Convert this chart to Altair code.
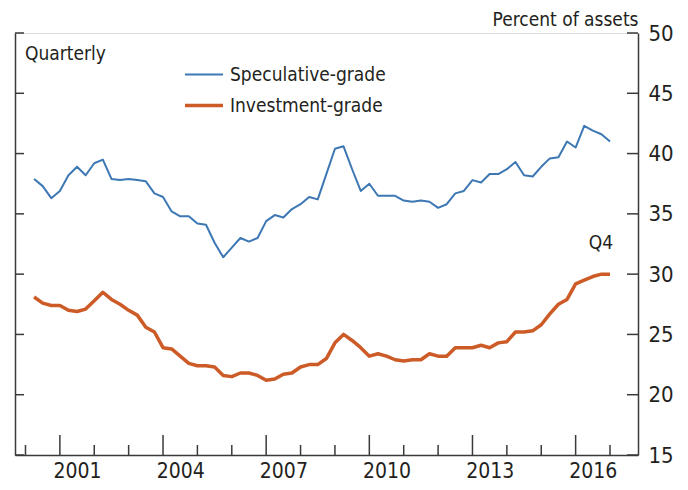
import altair as alt
import pandas as pd

FONT = "'Liberation Sans Narrow', 'Arial Narrow', 'DejaVu Sans Condensed', Roboto, sans-serif"
TEXT = "#231f20"
AXIS = "#3a3a3a"
BLUE = "#3d78b4"
ORANGE = "#cd5b27"

# quarterly observations 2000 Q1 .. 2016 Q4 (plotted at quarter end)
dates = [2000.25 + 0.25 * k for k in range(68)]

speculative = [
    37.9, 37.3, 36.3, 36.9, 38.2, 38.9, 38.2, 39.2, 39.5, 37.9,
    37.8, 37.9, 37.8, 37.7, 36.7, 36.4, 35.2, 34.8, 34.8, 34.2,
    34.1, 32.6, 31.4, 32.2, 33.0, 32.7, 33.0, 34.4, 34.9, 34.7,
    35.4, 35.8, 36.4, 36.2, 38.3, 40.4, 40.6, 38.7, 36.9, 37.5,
    36.5, 36.5, 36.5, 36.1, 36.0, 36.1, 36.0, 35.5, 35.8, 36.7,
    36.9, 37.8, 37.6, 38.3, 38.3, 38.7, 39.3, 38.2, 38.1, 38.9,
    39.6, 39.7, 41.0, 40.5, 42.3, 41.9, 41.6, 41.0,
]
investment = [
    28.1, 27.6, 27.4, 27.4, 27.0, 26.9, 27.1, 27.8, 28.5, 27.9,
    27.5, 27.0, 26.6, 25.6, 25.2, 23.9, 23.8, 23.2, 22.6, 22.4,
    22.4, 22.3, 21.6, 21.5, 21.8, 21.8, 21.6, 21.2, 21.3, 21.7,
    21.8, 22.3, 22.5, 22.5, 23.0, 24.3, 25.0, 24.5, 23.9, 23.2,
    23.4, 23.2, 22.9, 22.8, 22.9, 22.9, 23.4, 23.2, 23.2, 23.9,
    23.9, 23.9, 24.1, 23.9, 24.3, 24.4, 25.2, 25.2, 25.3, 25.8,
    26.7, 27.5, 27.9, 29.2, 29.5, 29.8, 30.0, 30.0,
]
series_names = ["Speculative-grade", "Investment-grade"]

x_major_ticks = [2001, 2004, 2007, 2010, 2013, 2016]
x_minor_ticks = [2000, 2002, 2003, 2005, 2006, 2008, 2009, 2011, 2012, 2014, 2015, 2017]
y_ticks = [15, 20, 25, 30, 35, 40, 45, 50]

W, H = 623, 422
XDOM = [1999.695, 2017.814]
YDOM = [15, 50]
YEAR_PX = W / (XDOM[1] - XDOM[0])

df = pd.DataFrame({
    "date": dates * 2,
    "value": speculative + investment,
    "series": [series_names[0]] * len(dates) + [series_names[1]] * len(dates),
})
maj = pd.DataFrame({"year": x_major_ticks})
mino = pd.DataFrame({"year": x_minor_ticks})
yt = pd.DataFrame({"v": y_ticks})
q4 = pd.DataFrame({"date": [dates[-1]], "value": [investment[-1]], "label": ["Q4"]})
note = pd.DataFrame({"t": ["Quarterly"]})

xscale = alt.Scale(domain=XDOM, nice=False, zero=False)
yscale = alt.Scale(domain=YDOM, nice=False, zero=False)

# identical x axis on every layer that uses the x field, so the shared axis merges cleanly
XAXIS = alt.Axis(
    values=x_major_ticks, format="d", labelOffset=YEAR_PX / 2, ticks=False,
    grid=False, domain=True, domainColor=AXIS, domainWidth=1.5,
    labelFont=FONT, labelFontSize=21, labelColor=TEXT, labelPadding=5,
    labelFlush=False, labelOverlap=False, title=None)

lines = alt.Chart(df).mark_line(strokeJoin="round").encode(
    x=alt.X("date:Q", scale=xscale, axis=XAXIS),
    y=alt.Y("value:Q", scale=yscale, axis=alt.Axis(
        orient="right", values=y_ticks, ticks=False, grid=False, domain=True,
        domainColor=AXIS, domainWidth=1.5, labelFont=FONT, labelFontSize=22,
        labelColor=TEXT, labelPadding=10, labelFlush=False,
        title="Percent of assets", titleAngle=0, titleX=0, titleY=-8,
        titleAlign="right", titleBaseline="alphabetic", titleFont=FONT,
        titleFontSize=19, titleFontWeight="normal", titleColor=TEXT)),
    color=alt.Color("series:N", scale=alt.Scale(domain=series_names, range=[BLUE, ORANGE]),
                    legend=alt.Legend(orient="none", legendX=168, legendY=27, title=None,
                                      symbolType="stroke", symbolSize=1444, labelFont=FONT,
                                      labelFontSize=19, labelColor=TEXT, clipHeight=29,
                                      rowPadding=2, labelOffset=5, padding=0, labelLimit=0)),
    strokeWidth=alt.StrokeWidth("series:N", scale=alt.Scale(domain=series_names, range=[2.0, 3.5])),
)

rule_style = dict(color=AXIS, strokeWidth=1.5)

major = alt.Chart(maj).mark_rule(**rule_style).encode(
    x=alt.X("year:Q", scale=xscale, axis=XAXIS),
    y=alt.value(H), y2=alt.value(H - 20))
minor = alt.Chart(mino).mark_rule(**rule_style).encode(
    x=alt.X("year:Q", scale=xscale, axis=XAXIS),
    y=alt.value(H), y2=alt.value(H - 10))
left_ticks = alt.Chart(yt).mark_rule(**rule_style).encode(
    y=alt.Y("v:Q", scale=yscale, axis=alt.Axis(orient="left", labels=False, ticks=False,
                                               grid=False, domain=True, domainColor=AXIS,
                                               domainWidth=1.5, title=None)),
    x=alt.value(0), x2=alt.value(9))
right_ticks = alt.Chart(yt).mark_rule(**rule_style).encode(
    y=alt.Y("v:Q", scale=yscale, axis=None),
    x=alt.value(W - 11), x2=alt.value(W))

q4_text = alt.Chart(q4).mark_text(font=FONT, fontSize=19, color=TEXT, dx=-9, dy=-25,
                                  baseline="alphabetic", align="center").encode(
    x=alt.X("date:Q", scale=xscale, axis=XAXIS),
    y=alt.Y("value:Q", scale=yscale, axis=None),
    text="label:N")

quarterly = alt.Chart(note).mark_text(font=FONT, fontSize=19, color=TEXT, align="left",
                                      baseline="alphabetic").encode(
    x=alt.value(10), y=alt.value(27), text="t:N")

chart = alt.layer(lines, major, minor, left_ticks, right_ticks, q4_text, quarterly).resolve_axis(
    y="independent"
).properties(
    width=W, height=H,
    autosize=alt.AutoSizeParams(type="none"),
    padding={"left": 7, "top": 25, "right": 42, "bottom": 27},
).configure_view(stroke=None).configure(font=FONT)

chart.save("out.html", embed_options={"renderer": "svg", "actions": False})
